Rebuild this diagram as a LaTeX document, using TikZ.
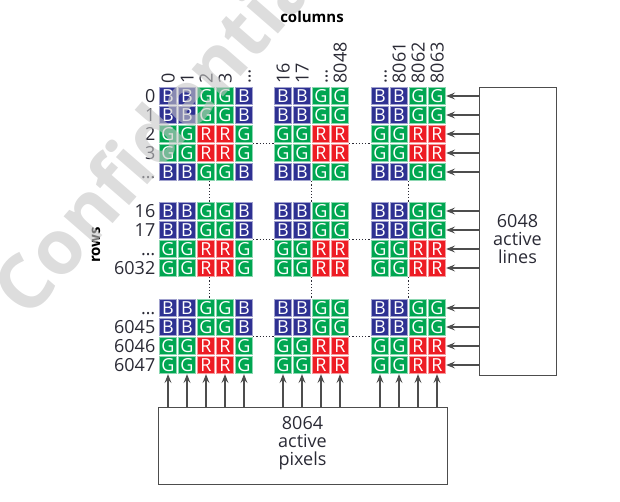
\documentclass[tikz,border=0pt]{standalone}
\usepackage{fontspec}
\setmainfont{Open Sans}
\usetikzlibrary{arrows.meta,positioning,calc}
\definecolor{PixBlue}{HTML}{2E3192}
\definecolor{PixGreen}{HTML}{00A651}
\definecolor{PixRed}{HTML}{ED1C24}
\definecolor{LineGray}{HTML}{4D4D4D}
\definecolor{InkDark}{HTML}{2A2A35}

\begin{document}
\begin{tikzpicture}[x=1pt,y=-1pt,>={Stealth[length=9pt,width=7pt,inset=3.5pt]},
  every node/.style={font=\fontsize{18}{18}\selectfont,text=InkDark},
  pix/.style={minimum size=17.6pt,inner sep=0pt,line width=0.7pt,text=white},
  pix0/.style={pix,fill=PixBlue,draw=PixBlue!45},
  pix1/.style={pix,fill=PixGreen,draw=PixGreen!45},
  pix2/.style={pix,fill=PixRed,draw=PixRed!45},
  lab/.style={text height=13pt,text depth=0pt},
  head/.style={font=\fontsize{15}{16}\selectfont\bfseries,text=black},
  arr/.style={->,draw=LineGray,line width=1.1pt},
  link/.style={dash pattern=on 1.2pt off 2pt,line width=1pt,draw=InkDark},
  frame/.style={draw=LineGray,line width=1pt,inner sep=0pt}]
  \useasboundingbox (0,0) rectangle (620,501);

  % pixel array: column blocks x row blocks
  \foreach \cb/\cx/\ctypes in {a/159/{0,0,1,1,0},b/274/{0,0,1,1},c/371/{0,0,1,1}}
    \foreach \rb/\ry/\rtypes in {a/87/{0,0,1,1,0},b/202/{0,0,1,1},c/299/{0,0,1,1}}
      \foreach \ct [count=\i] in \ctypes
        \foreach \rt [count=\j] in \rtypes {
          \pgfmathtruncatemacro\k{\rt+\ct}
          \node[pix\k] (c-\rb\j-\cb\i) at ({\cx+19*(\i-1)+9},{\ry+19*(\j-1)+9})
            {\ifcase\k B\or G\or R\fi};
        }

  % row and column numbers
  \foreach \rb/\labs in {a/{0,1,2,3,…},b/{16,17,…,6032},c/{…,6045,6046,6047}}
    \foreach \lab [count=\j] in \labs
      \node[lab,left=0pt of c-\rb\j-a1] {\lab};
  \foreach \cb/\labs in {a/{0,1,2,3,…},b/{16,17,…,8048},c/{…,8061,8062,8063}}
    \foreach \lab [count=\i] in \labs
      \node[lab,rotate=90,anchor=west] at (c-a1-\cb\i.north) {\lab};
  \node[head] (colhead) at (312,17) {columns};
  \node[head,rotate=90] (rowhead) at (96,245) {rows};

  % skipped rows and columns
  \foreach \rb/\j in {a/3,b/2,c/2}{
    \draw[link] (c-\rb\j-a5.south east) -- (c-\rb\j-b1.south west);
    \draw[link] (c-\rb\j-b4.south east) -- (c-\rb\j-c1.south west);
  }
  \foreach \ra/\n/\rc in {a/5/b,b/4/c}{
    \draw[link] ($(c-\ra\n-a3.south)+(3,0)$) -- ($(c-\rc1-a3.north)+(3,0)$);
    \draw[link] (c-\ra\n-b2.south east) -- (c-\rc1-b2.north east);
    \draw[link] (c-\ra\n-c2.south east) -- (c-\rc1-c2.north east);
  }

  % line and pixel drivers
  \node[frame,minimum width=77pt,minimum height=288pt] (lines) at (517.5,231) {};
  \node[align=center] (lines-txt) at (517.5,239) {6048\\active\\lines};
  \node[frame,minimum width=289pt,minimum height=77pt] (pixels) at (302.5,445.5) {};
  \node[align=center] (pixels-txt) at (302.5,443) {8064\\active\\pixels};
  \foreach \rb/\n in {a/5,b/4,c/4}
    \foreach \j in {1,...,\n}
      \draw[arr] (c-\rb\j-c4 -| lines.west) -- (c-\rb\j-c4.east);
  \foreach \cb/\n in {a/5,b/4,c/4}
    \foreach \i in {1,...,\n}
      \draw[arr] (c-c4-\cb\i |- pixels.north) -- (c-c4-\cb\i.south);

  % watermark
  \node[rotate=49,font=\fontsize{76}{76}\selectfont\bfseries,text=gray!45,text opacity=0.6]
    (mark) at (160,126) {Confidential};
\end{tikzpicture}
\end{document}
